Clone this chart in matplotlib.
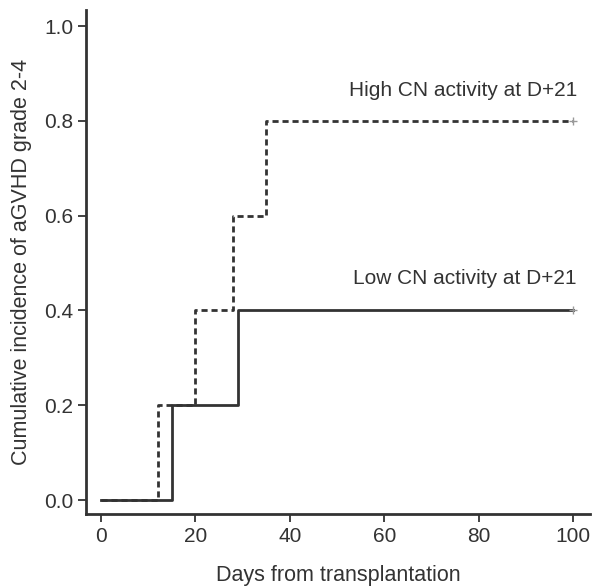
import matplotlib
matplotlib.use("Agg")
import matplotlib.pyplot as plt

plt.rcParams['font.family'] = ['Liberation Sans', 'DejaVu Sans']

# Step data (event times and cumulative incidence)
high_days = [0, 12, 20, 28, 35, 100]
high_ci = [0.0, 0.2, 0.4, 0.6, 0.8, 0.8]
low_days = [0, 15, 29, 100]
low_ci = [0.0, 0.2, 0.4, 0.4]

xticks = [0, 20, 40, 60, 80, 100]
yticks = [0.0, 0.2, 0.4, 0.6, 0.8, 1.0]
high_label = "High CN activity at D+21"
low_label = "Low CN activity at D+21"

fig = plt.figure(figsize=(5.98, 5.88), dpi=100)
ax = fig.add_axes([86/598, 1 - 514/588, (590-86)/598, (514-10)/588])

ink = '#333333'
ax.step(high_days, high_ci, where='post', color=ink, lw=2.0,
        linestyle=(0, (2.2, 1.4)))
ax.step(low_days, low_ci, where='post', color=ink, lw=2.0)
ax.plot([high_days[-1]], [high_ci[-1]], marker='+', color='#999999', ms=6, mew=1)
ax.plot([low_days[-1]], [low_ci[-1]], marker='+', color='#999999', ms=6, mew=1)

ax.text(100.8, 0.865, high_label, ha='right', va='center', fontsize=15, color=ink)
ax.text(100.8, 0.468, low_label, ha='right', va='center', fontsize=15, color=ink)

ax.set_xlim(-3.2, 103.6)
ax.set_ylim(-0.0295, 1.034)
ax.set_xticks(xticks)
ax.set_yticks(yticks)
ax.set_xticklabels([str(t) for t in xticks])
ax.set_yticklabels([f"{t:.1f}" for t in yticks])
for s in ['top', 'right']:
    ax.spines[s].set_visible(False)
for s in ['left', 'bottom']:
    ax.spines[s].set_linewidth(2.0)
    ax.spines[s].set_color(ink)
ax.tick_params(axis='both', direction='out', length=6, width=1.3, color=ink,
               labelsize=15, labelcolor=ink, pad=3)
ax.set_xlabel("Days from transplantation", fontsize=15.5, color=ink, labelpad=14)
ax.set_ylabel("Cumulative incidence of aGVHD grade 2-4", fontsize=15.5, color=ink, labelpad=9)

fig.savefig("out.png", dpi=100)
